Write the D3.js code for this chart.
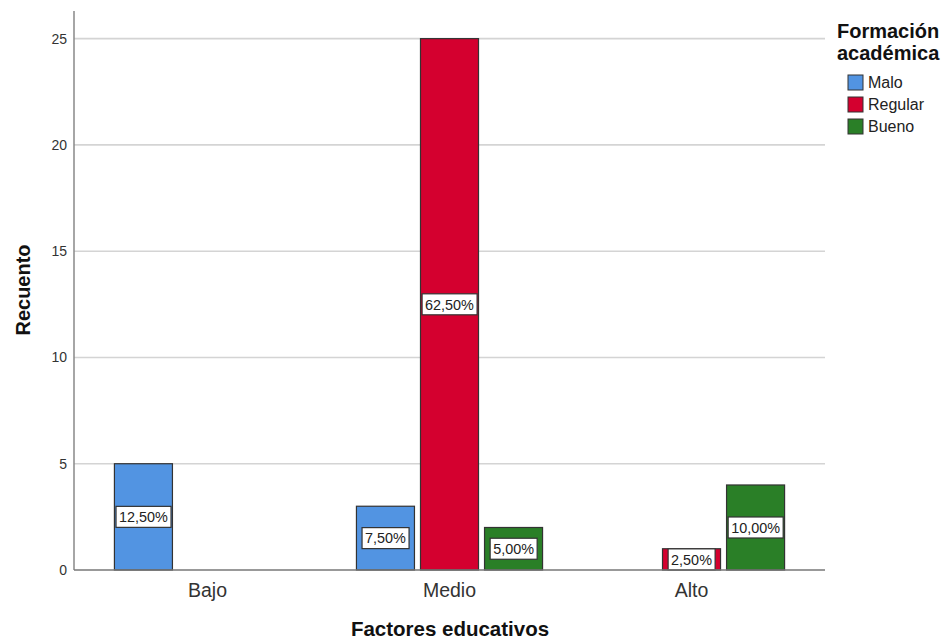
<!DOCTYPE html>
<html>
<head>
<meta charset="utf-8">
<script src="https://cdn.jsdelivr.net/npm/d3@7"></script>
<style>
  body { margin: 0; background: #fff; }
  text { font-family: Arial, "Liberation Sans", sans-serif; }
</style>
</head>
<body>
<div id="chart"></div>
<script>
const categories = ["Bajo", "Medio", "Alto"];
const series = ["Malo", "Regular", "Bueno"];
// counts per category for each series
const malo = [5, 3, 0];
const regular = [0, 25, 1];
const bueno = [0, 2, 4];
const pctLabels = {
  Malo: ["12,50%", "7,50%", ""],
  Regular: ["", "62,50%", "2,50%"],
  Bueno: ["", "5,00%", "10,00%"]
};
const yTicks = [0, 5, 10, 15, 20, 25];
const colors = ["#5294e2", "#d4002f", "#2a7f27"];

const width = 948, height = 642;
const margin = { left: 74, right: 123, top: 11, bottom: 72 };

const svg = d3.select("#chart").append("svg")
  .attr("width", width)
  .attr("height", height);

const x0 = d3.scaleBand()
  .domain(categories)
  .range([margin.left, width - margin.right])
  .paddingInner(0.231)
  .paddingOuter(0.167);

const x1 = d3.scaleBand()
  .domain(series)
  .range([0, x0.bandwidth()])
  .paddingInner(0.094);

const y = d3.scaleLinear()
  .domain([0, 26.3])
  .range([height - margin.bottom, margin.top]);

const color = d3.scaleOrdinal().domain(series).range(colors);

// gridlines
svg.append("g")
  .selectAll("line")
  .data(yTicks.filter(d => d > 0))
  .enter().append("line")
  .attr("x1", margin.left)
  .attr("x2", width - margin.right)
  .attr("y1", d => y(d))
  .attr("y2", d => y(d))
  .style("stroke", "#d4d4d4")
  .style("stroke-width", 1.6);

// y tick labels
svg.append("g")
  .selectAll("text")
  .data(yTicks)
  .enter().append("text")
  .attr("x", margin.left - 7)
  .attr("y", d => y(d))
  .attr("dy", "0.36em")
  .attr("text-anchor", "end")
  .style("font-size", "14px")
  .style("fill", "#333")
  .text(d => d);

const rows = series.map((s, i) => ({
  name: s,
  values: [malo, regular, bueno][i]
}));

const bars = [];
rows.forEach(r => {
  categories.forEach((c, j) => {
    if (r.values[j] > 0) bars.push({ cat: c, s: r.name, v: r.values[j], label: pctLabels[r.name][j] });
  });
});

const g = svg.append("g");

g.selectAll("rect")
  .data(bars)
  .enter().append("rect")
  .attr("x", d => x0(d.cat) + x1(d.s))
  .attr("y", d => y(d.v))
  .attr("width", x1.bandwidth())
  .attr("height", d => y(0) - y(d.v))
  .style("fill", d => color(d.s))
  .style("stroke", "#333")
  .style("stroke-width", 1.2);

// value labels
const lab = g.selectAll(".lab")
  .data(bars)
  .enter().append("g")
  .attr("class", "lab")
  .attr("transform", d => {
    const cx = x0(d.cat) + x1(d.s) + x1.bandwidth() / 2;
    const cy = (y(d.v) + y(0)) / 2;
    return `translate(${cx},${cy})`;
  });

lab.append("text")
  .attr("text-anchor", "middle")
  .attr("dy", "0.36em")
  .style("font-size", "14.4px")
  .style("fill", "#222")
  .text(d => d.label);

lab.each(function() {
  const t = d3.select(this).select("text");
  const b = t.node().getBBox();
  d3.select(this).insert("rect", "text")
    .attr("x", b.x - 3)
    .attr("y", -10.5)
    .attr("width", b.width + 6)
    .attr("height", 21)
    .style("fill", "#fff")
    .style("stroke", "#333")
    .style("stroke-width", 1.2);
});

// axes lines
svg.append("line")
  .attr("x1", margin.left).attr("x2", margin.left)
  .attr("y1", margin.top).attr("y2", y(0))
  .style("stroke", "#888").style("stroke-width", 1.5);
svg.append("line")
  .attr("x1", margin.left).attr("x2", width - margin.right)
  .attr("y1", y(0)).attr("y2", y(0))
  .style("stroke", "#777").style("stroke-width", 1.5);

// category labels
svg.append("g")
  .selectAll("text")
  .data(categories)
  .enter().append("text")
  .attr("x", d => x0(d) + x0.bandwidth() / 2)
  .attr("y", 597)
  .attr("text-anchor", "middle")
  .style("font-size", "19.5px")
  .style("fill", "#333")
  .text(d => d);

// axis titles
svg.append("text")
  .attr("x", 450)
  .attr("y", 636)
  .attr("text-anchor", "middle")
  .style("font-size", "20.5px")
  .style("font-weight", "bold")
  .style("fill", "#111")
  .text("Factores educativos");

svg.append("text")
  .attr("transform", "translate(30,290) rotate(-90)")
  .attr("text-anchor", "middle")
  .style("font-size", "20px")
  .style("font-weight", "bold")
  .style("fill", "#111")
  .text("Recuento");

// legend
const leg = svg.append("g");
leg.append("text")
  .attr("x", 837).attr("y", 38)
  .style("font-size", "20px").style("font-weight", "bold").style("fill", "#111")
  .text("Formación");
leg.append("text")
  .attr("x", 837).attr("y", 60)
  .style("font-size", "20px").style("font-weight", "bold").style("fill", "#111")
  .text("académica");

const items = leg.selectAll(".item")
  .data(series)
  .enter().append("g")
  .attr("transform", (d, i) => `translate(848,${75 + i * 22})`);
items.append("rect")
  .attr("width", 15).attr("height", 15)
  .style("fill", d => color(d))
  .style("stroke", "#333").style("stroke-width", 1);
items.append("text")
  .attr("x", 20).attr("y", 7.5).attr("dy", "0.36em")
  .style("font-size", "16px").style("fill", "#222")
  .text(d => d);
</script>
</body>
</html>
